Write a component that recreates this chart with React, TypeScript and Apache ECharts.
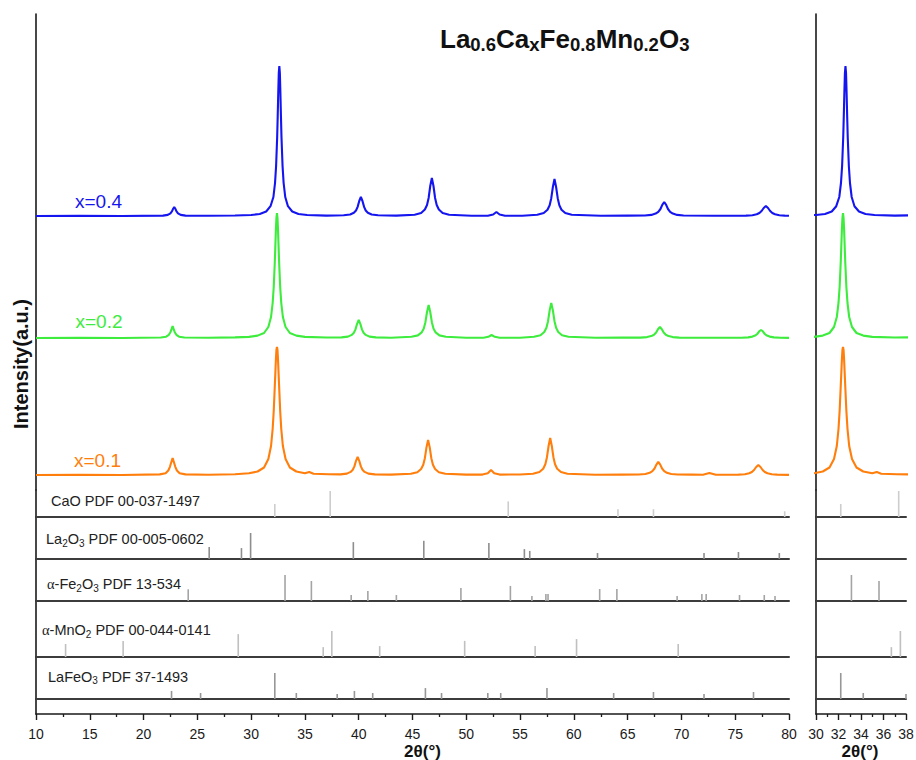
import React, { useEffect, useRef } from 'react';
import * as echarts from 'echarts';

// ---------------- data ----------------
const CURVE_NAMES = ['x=0.4', 'x=0.2', 'x=0.1'];
const CURVE_COLORS = ['#1515f0', '#3dec3d', '#ff7e0c'];
// vertical offsets of the stacked patterns (a.u.)
const CURVE_OFFSETS = [274, 152, 15];

// x = 0.4  [2θ, intensity]
const X04: number[][] = [
  [10, 0], [14, 0.3], [18, 0], [21.8, 0.4], [22.25, 1.1], [22.5, 2.7], [22.65, 4.8], [22.75, 7.3], [22.85, 9], [22.95, 7.3], [23.05, 4.8], [23.2, 2.7], [23.45, 1.1], [23.9, 0.4], [26, 0.3], [28.5, 0.5],
  [30.0, 1], [30.8, 2], [31.4, 4.5], [31.8, 9.8], [32.07, 19], [32.22, 33], [32.32, 50], [32.42, 79], [32.47, 100], [32.52, 123], [32.57, 143], [32.62, 150], [32.67, 143], [32.72, 123], [32.77, 100], [32.82, 79], [32.92, 50], [33.02, 33], [33.17, 19], [33.42, 9.8], [33.82, 4.5], [34.4, 2], [35.2, 1], [37, 0.4],
  [38.6, 0.7], [39.2, 1.5], [39.55, 3.2], [39.75, 5.5], [39.9, 9.1], [40.05, 15], [40.2, 19], [40.35, 15], [40.5, 9.1], [40.65, 5.5], [40.85, 3.2], [41.2, 1.5], [41.8, 0.7], [43.5, 0.4],
  [45.2, 1.3], [45.8, 3], [46.15, 6.5], [46.35, 11], [46.5, 18], [46.65, 30], [46.8, 38], [46.95, 30], [47.1, 18], [47.25, 11], [47.45, 6.5], [47.8, 3], [48.4, 1.3], [50.5, 0.3],
  [52.0, 0.3], [52.5, 1.5], [52.8, 4], [53.1, 1.5], [53.6, 0.3], [55.2, 0.3],
  [56.6, 1.3], [57.2, 3], [57.55, 6.3], [57.75, 10.7], [57.9, 17.8], [58.05, 29], [58.2, 37], [58.35, 29], [58.5, 17.8], [58.65, 10.7], [58.85, 6.3], [59.2, 3], [59.8, 1.3], [62.5, 0.3], [65, 0.4],
  [66.6, 0.5], [67.2, 1.1], [67.6, 2.4], [67.85, 4.2], [68.05, 7], [68.22, 11.2], [68.4, 14], [68.58, 11.2], [68.75, 7], [68.95, 4.2], [69.2, 2.4], [69.6, 1.1], [70.2, 0.5], [73, 0.3],
  [76.0, 0.4], [76.6, 0.8], [77.0, 1.7], [77.25, 3], [77.45, 5], [77.65, 8], [77.85, 10], [78.05, 8], [78.25, 5], [78.45, 3], [78.7, 1.7], [79.1, 0.8], [79.6, 0.4], [80, 0.2],
];

// x = 0.2
const X02: number[][] = [
  [10, 0], [14, 0.3], [18, 0], [21.6, 0.5], [22.1, 1.3], [22.35, 3.2], [22.5, 5.8], [22.6, 8.8], [22.7, 12], [22.8, 8.8], [22.9, 5.8], [23.05, 3.2], [23.3, 1.3], [23.8, 0.5], [26, 0.3], [28.5, 0.6],
  [29.8, 1.1], [30.6, 2.4], [31.2, 5], [31.6, 11], [31.85, 21], [32.0, 35], [32.1, 51], [32.2, 76], [32.25, 92], [32.3, 108], [32.35, 120], [32.4, 125], [32.45, 120], [32.5, 108], [32.55, 92], [32.6, 76], [32.7, 51], [32.8, 35], [32.95, 21], [33.2, 11], [33.6, 5], [34.2, 2.4], [35.0, 1.1], [37, 0.5],
  [38.4, 0.6], [39.0, 1.4], [39.35, 3.1], [39.55, 5.2], [39.7, 8.6], [39.85, 14.2], [40.0, 18], [40.15, 14.2], [40.3, 8.6], [40.45, 5.2], [40.65, 3.1], [41.0, 1.4], [41.6, 0.6], [43, 0.3],
  [44.9, 1.2], [45.5, 2.6], [45.85, 5.6], [46.05, 9.6], [46.2, 15.8], [46.35, 26], [46.5, 33], [46.65, 26], [46.8, 15.8], [46.95, 9.6], [47.15, 5.6], [47.5, 2.6], [48.1, 1.2], [50, 0.3],
  [51.6, 0.3], [52.05, 1.2], [52.35, 3], [52.65, 1.2], [53.1, 0.3], [55, 0.3],
  [56.3, 1.2], [56.9, 2.8], [57.25, 6], [57.45, 10.2], [57.6, 16.8], [57.75, 27.6], [57.9, 35], [58.05, 27.6], [58.2, 16.8], [58.35, 10.2], [58.55, 6], [58.9, 2.8], [59.5, 1.2], [62, 0.3], [64.5, 0.4],
  [66.2, 0.4], [66.8, 0.9], [67.2, 1.9], [67.45, 3.3], [67.65, 5.5], [67.82, 8.8], [68.0, 11], [68.18, 8.8], [68.35, 5.5], [68.55, 3.3], [68.8, 1.9], [69.2, 0.9], [69.8, 0.4], [72, 0.3],
  [75.6, 0.3], [76.2, 0.6], [76.6, 1.4], [76.85, 2.4], [77.05, 4], [77.25, 6.8], [77.4, 8], [77.55, 6.8], [77.75, 4], [77.95, 2.4], [78.2, 1.4], [78.6, 0.6], [79.2, 0.3], [80, 0.1],
];

// x = 0.1
const X01: number[][] = [
  [10, 0], [14, 0.3], [18, 0], [21.5, 0.6], [22.05, 1.8], [22.3, 4.5], [22.45, 8.2], [22.57, 12.5], [22.7, 17], [22.83, 12.5], [22.95, 8.2], [23.1, 4.5], [23.35, 1.8], [23.9, 0.6], [26, 0.3], [28.5, 0.8],
  [29.8, 1.7], [30.6, 3.5], [31.2, 7.5], [31.6, 16], [31.85, 29], [32.0, 46], [32.1, 64], [32.2, 89], [32.25, 102], [32.3, 115], [32.35, 125], [32.4, 128], [32.45, 125], [32.5, 115], [32.55, 102], [32.6, 89], [32.7, 64], [32.8, 46], [32.95, 29], [33.2, 16], [33.6, 7.5], [34.2, 3.5], [35.0, 1.8], [35.4, 3], [35.8, 1.3], [37.2, 0.8],
  [38.3, 0.6], [38.9, 1.4], [39.25, 3.1], [39.45, 5.2], [39.6, 8.6], [39.75, 14.2], [39.9, 18], [40.05, 14.2], [40.2, 8.6], [40.35, 5.2], [40.55, 3.1], [40.9, 1.4], [41.5, 0.6], [43, 0.4],
  [44.85, 1.2], [45.45, 2.8], [45.8, 6], [46.0, 10.2], [46.15, 16.8], [46.3, 27.6], [46.45, 35], [46.6, 27.6], [46.75, 16.8], [46.9, 10.2], [47.1, 6], [47.45, 2.8], [48.05, 1.2], [50, 0.4],
  [51.5, 0.4], [52.0, 1.8], [52.3, 5], [52.6, 1.8], [53.1, 0.4], [55, 0.5],
  [56.2, 1.3], [56.8, 3], [57.15, 6.3], [57.35, 10.7], [57.5, 17.8], [57.65, 29], [57.8, 37], [57.95, 29], [58.1, 17.8], [58.25, 10.7], [58.45, 6.3], [58.8, 3], [59.4, 1.3], [62, 0.3], [64.5, 0.4],
  [66.05, 0.5], [66.65, 1], [67.05, 2.2], [67.3, 3.9], [67.5, 6.5], [67.67, 10.4], [67.85, 13], [68.03, 10.4], [68.2, 6.5], [68.4, 3.9], [68.65, 2.2], [69.05, 1], [69.65, 0.5], [71, 0.4],
  [72.0, 0.3], [72.6, 2], [73.2, 0.3], [74.5, 0.3],
  [75.3, 0.4], [75.9, 0.8], [76.3, 1.7], [76.55, 3], [76.75, 5], [76.95, 8], [77.15, 10], [77.35, 8], [77.55, 5], [77.75, 3], [78.0, 1.7], [78.4, 0.8], [78.9, 0.4], [80, 0.1],
];

const CURVES = [X04, X02, X01];

// reference patterns [2θ, relative intensity %]
const CAO_STICKS: number[][] = [[32.2, 50], [37.35, 100], [53.9, 60], [64.1, 30], [67.4, 30], [79.6, 22]];
const LA2O3_STICKS: number[][] = [[26.1, 46], [29.1, 42], [29.95, 100], [39.5, 65], [46.05, 70], [52.1, 62], [55.4, 38], [55.9, 31], [62.2, 23], [72.1, 23], [75.3, 27], [79.1, 23]];
const FE2O3_STICKS: number[][] = [[24.15, 45], [33.15, 100], [35.6, 77], [39.3, 23], [40.85, 38], [43.5, 23], [49.5, 50], [54.1, 58], [56.1, 19], [57.4, 27], [57.6, 27], [62.4, 46], [64.0, 46], [69.6, 19], [71.9, 27], [72.3, 27], [75.4, 23], [77.7, 23], [78.7, 19]];
const MNO2_STICKS: number[][] = [[12.75, 50], [18.1, 62], [28.8, 88], [36.7, 38], [37.5, 100], [41.95, 42], [49.85, 62], [56.4, 42], [60.25, 69], [69.7, 50]];
const LAFEO3_STICKS: number[][] = [[22.6, 31], [25.3, 23], [32.2, 100], [34.2, 23], [38.0, 19], [39.6, 31], [41.3, 23], [46.2, 42], [47.7, 23], [52.0, 23], [53.2, 23], [57.5, 42], [63.7, 23], [67.4, 27], [72.1, 19], [76.7, 27]];

const REF_STICKS = [CAO_STICKS, LA2O3_STICKS, FE2O3_STICKS, MNO2_STICKS, LAFEO3_STICKS];
const REF_LABELS = [
  '{m|CaO PDF 00-037-1497}',
  '{m|La}{s|2}{m|O}{s|3}{m| PDF 00-005-0602}',
  '{g|α}{m|-Fe}{s|2}{m|O}{s|3}{m| PDF 13-534}',
  '{g|α}{m|-MnO}{s|2}{m| PDF 00-044-0141}',
  '{m|LaFeO}{s|3}{m| PDF 37-1493}',
];
const REF_COLORS = ['#cdcdcd', '#8e8e8e', '#a4a4a4', '#c0c0c0', '#979797'];

const LEFT_TICKS = [10, 15, 20, 25, 30, 35, 40, 45, 50, 55, 60, 65, 70, 75, 80];
const RIGHT_TICKS = [30, 32, 34, 36, 38];

const TITLE = '{m|La}{s|0.6}{m|Ca}{s|x}{m|Fe}{s|0.8}{m|Mn}{s|0.2}{m|O}{s|3}';
const Y_NAME = 'Intensity(a.u.)';
const X_NAME = '2θ(°)';

// ---------------- layout ----------------
const FONT = '"Liberation Sans", Arial, Helvetica, sans-serif';
const AXIS_COLOR = '#1a1a1a';
const BASE_COLOR = '#3c3c3c';
const ROW_TOPS = [14, 490, 517, 559, 601, 657, 699, 714];
const STICK_PX = 26;
const PANELS = [
  { left: 36, width: 753, ticks: LEFT_TICKS },
  { left: 816, width: 90, ticks: RIGHT_TICKS },
];
const CURVE_LABEL_POS = [[98.5, 201.5], [99, 321.5], [97.5, 460.5]];
const REF_LABEL_POS = [[51, 501], [46, 539], [47, 584], [42, 630], [48, 676.5]];

function buildOption() {
  const grid: any[] = [];
  const xAxis: any[] = [];
  const yAxis: any[] = [];
  const series: any[] = [];

  PANELS.forEach((p) => {
    const tMin = p.ticks[0];
    const tMax = p.ticks[p.ticks.length - 1];
    const interval = p.ticks[1] - p.ticks[0];
    for (let r = 0; r < ROW_TOPS.length - 1; r++) {
      const top = ROW_TOPS[r];
      const h = ROW_TOPS[r + 1] - top;
      const gi = grid.length;
      const isCurve = r === 0;
      const isAxis = r === ROW_TOPS.length - 2;
      grid.push({ left: p.left, top, width: p.width, height: h, containLabel: false, outerBoundsMode: 'none' });
      if (isCurve) {
        xAxis.push({ type: 'value', gridIndex: gi, min: tMin, max: tMax, show: false });
      } else if (isAxis) {
        xAxis.push({
          type: 'value', gridIndex: gi, min: tMin, max: tMax, interval,
          axisLine: { show: true, onZero: false, lineStyle: { color: AXIS_COLOR, width: 1.6 } },
          axisTick: { show: true, inside: false, length: 6, lineStyle: { color: AXIS_COLOR, width: 1.4 } },
          minorTick: { show: true, splitNumber: 2, length: 3, lineStyle: { color: AXIS_COLOR, width: 1.3 } },
          axisLabel: { show: true, fontSize: 14, lineHeight: 14, margin: 13, color: '#1a1a1a', fontFamily: FONT, showMinLabel: true, showMaxLabel: true, hideOverlap: false },
          splitLine: { show: false },
        });
      } else {
        xAxis.push({
          type: 'value', gridIndex: gi, min: tMin, max: tMax,
          axisLine: { show: true, onZero: false, lineStyle: { color: BASE_COLOR, width: 2 } },
          axisTick: { show: false }, axisLabel: { show: false }, splitLine: { show: false },
        });
      }
      yAxis.push({
        type: 'value', gridIndex: gi, min: 0,
        max: isCurve ? h : isAxis ? 1 : (100 * h) / STICK_PX,
        axisLine: { show: true, onZero: false, lineStyle: { color: AXIS_COLOR, width: 1.6 } },
        axisTick: { show: false }, axisLabel: { show: false }, splitLine: { show: false },
      });

      if (isCurve) {
        CURVES.forEach((c, ci) => {
          series.push({
            type: 'line', xAxisIndex: gi, yAxisIndex: gi, name: CURVE_NAMES[ci],
            data: c.map(([x, y]) => [x, y + CURVE_OFFSETS[ci]]),
            showSymbol: false, symbol: 'none', clip: true, silent: true,
            lineStyle: { color: CURVE_COLORS[ci], width: 2.1 },
          });
        });
      } else if (!isAxis) {
        const ri = r - 1;
        series.push({
          type: 'bar', xAxisIndex: gi, yAxisIndex: gi, silent: true,
          data: REF_STICKS[ri].filter(([x]) => x >= tMin && x <= tMax),
          barWidth: 1.6,
          itemStyle: { color: REF_COLORS[ri] },
        });
      }
    }
  });

  const refRich = {
    m: { fontSize: 14.5, fontFamily: FONT, fill: '#222', lineHeight: 18 },
    s: { fontSize: 10, fontFamily: FONT, fill: '#222', lineHeight: 10, verticalAlign: 'bottom' },
    g: { fontSize: 14.5, fontFamily: '"Liberation Serif", "DejaVu Serif", serif', fill: '#222', lineHeight: 18 },
  };

  const graphic: any[] = [
    {
      type: 'text', z: 100,
      style: {
        text: TITLE, x: 440, y: 24, align: 'left', verticalAlign: 'top',
        rich: {
          m: { fontSize: 26, fontWeight: 'bold', fontFamily: FONT, fill: '#111', lineHeight: 30 },
          s: { fontSize: 18.5, fontWeight: 'bold', fontFamily: FONT, fill: '#111', lineHeight: 16, verticalAlign: 'bottom' },
        },
      },
    },
    {
      type: 'text', z: 100, x: 20.5, y: 364, rotation: Math.PI / 2,
      style: { text: Y_NAME, x: 0, y: 0, align: 'center', verticalAlign: 'middle', fontSize: 20, fontWeight: 'bold', fontFamily: FONT, fill: '#111' },
    },
    {
      type: 'text', z: 100,
      style: { text: X_NAME, x: 422.5, y: 751, align: 'center', verticalAlign: 'middle', fontSize: 17, fontWeight: 'bold', fontFamily: FONT, fill: '#111' },
    },
    {
      type: 'text', z: 100,
      style: { text: X_NAME, x: 860, y: 751, align: 'center', verticalAlign: 'middle', fontSize: 17, fontWeight: 'bold', fontFamily: FONT, fill: '#111' },
    },
  ];
  CURVE_NAMES.forEach((n, i) => {
    graphic.push({
      type: 'text', z: 100,
      style: { text: n, x: CURVE_LABEL_POS[i][0], y: CURVE_LABEL_POS[i][1], align: 'center', verticalAlign: 'middle', fontSize: 19, fontFamily: FONT, fill: CURVE_COLORS[i] },
    });
  });
  REF_LABELS.forEach((t, i) => {
    graphic.push({
      type: 'text', z: 100,
      style: { text: t, x: REF_LABEL_POS[i][0], y: REF_LABEL_POS[i][1], align: 'left', verticalAlign: 'middle', rich: refRich },
    });
  });

  return { animation: false, backgroundColor: '#fff', grid, xAxis, yAxis, series, graphic };
}

export default function App() {
  const ref = useRef<HTMLDivElement>(null);
  useEffect(() => {
    const chart = echarts.init(ref.current as HTMLDivElement, null, { renderer: 'svg' });
    chart.setOption(buildOption() as any);
    return () => chart.dispose();
  }, []);
  return <div ref={ref} style={{ position: 'fixed', left: 0, top: 0, width: 916, height: 760, background: '#fff' }} />;
}
